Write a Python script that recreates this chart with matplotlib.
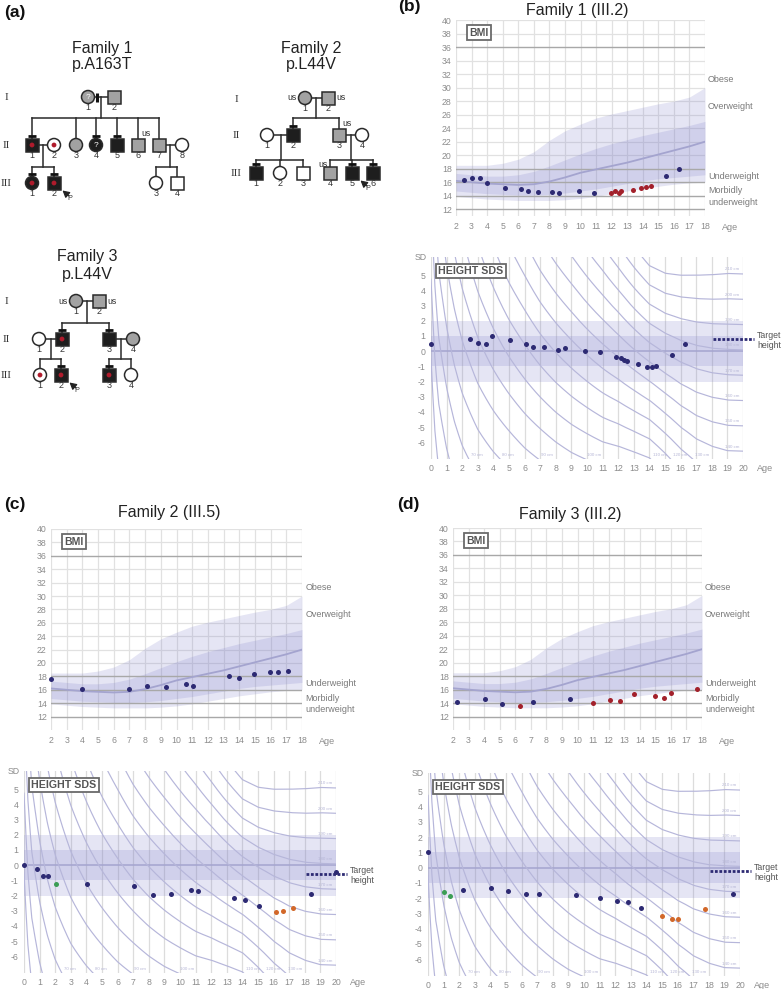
import numpy as np
import matplotlib
matplotlib.use('Agg')
import matplotlib.pyplot as plt
from matplotlib.patches import Rectangle, Circle
import matplotlib.transforms as mtransforms

plt.rcParams['font.family'] = ['Liberation Sans', 'DejaVu Sans']
plt.rcParams['axes.unicode_minus'] = False

W, H = 782, 989
fig = plt.figure(figsize=(W / 100, H / 100), dpi=100)

# ------------------------------------------------------------------ data
# BMI reference bands (boys), ages 2..18
bmi_ref_age = [2, 3, 4, 5, 6, 7, 8, 9, 10, 11, 12, 13, 14, 15, 16, 17, 18]
bmi_outer_hi = [18.5, 18.5, 18.5, 18.8, 19.4, 20.5, 22.2, 23.6, 24.6, 25.5, 26.1, 26.6, 27.1, 27.6, 28.0, 28.6, 30.0]
bmi_outer_lo = [13.9, 13.7, 13.5, 13.4, 13.3, 13.3, 13.3, 13.4, 13.6, 13.9, 14.3, 14.7, 15.1, 15.4, 15.7, 15.9, 16.0]
bmi_inner_hi = [17.3, 17.1, 16.9, 16.9, 17.1, 17.6, 18.4, 19.3, 20.2, 21.0, 21.7, 22.3, 22.9, 23.4, 23.9, 24.4, 25.0]
bmi_inner_lo = [14.7, 14.5, 14.3, 14.2, 14.1, 14.1, 14.2, 14.4, 14.7, 15.0, 15.4, 15.8, 16.2, 16.5, 16.7, 16.9, 17.1]
bmi_median = [16.2, 16.0, 15.8, 15.7, 15.6, 15.7, 16.1, 16.7, 17.4, 17.9, 18.4, 18.9, 19.5, 20.1, 20.7, 21.3, 22.0]
bmi_cutoffs = [36, 18, 16, 14, 12]
bmi_cat_labels = ['Obese', 'Overweight', 'Underweight', 'Morbidly\nunderweight']
bmi_cat_pos = [31.2, 27.2, 16.9, 13.9]

# Height reference (for iso-height lines)
ht_ref_age = [0, 0.25, 0.5, 1, 1.5, 2, 3, 4, 5, 6, 7, 8, 9, 10, 11, 12, 13, 14, 15, 16, 17, 18, 19, 20]
ht_ref_mean = [51.0, 61.0, 68.0, 76.0, 82.5, 88.0, 97.0, 104.5, 111.5, 118.0, 124.5, 130.5, 136.0, 141.5,
               147.0, 152.5, 159.0, 165.5, 171.0, 175.0, 177.5, 178.8, 179.3, 179.5]
ht_ref_sd = [1.9, 2.1, 2.3, 2.5, 2.7, 2.9, 3.3, 3.7, 4.1, 4.4, 4.8, 5.1, 5.4, 5.8, 6.2, 6.8, 7.4, 7.9,
             7.6, 7.0, 6.5, 6.2, 6.0, 6.0]
iso_heights = [50, 60, 70, 80, 90, 100, 110, 120, 130, 140, 150, 160, 170, 180, 190, 200, 210]

# Family 1 (III.2)
f1_bmi_blue_age = [2.51, 3.01, 3.57, 3.97, 5.13, 6.16, 6.6, 7.27, 8.16, 8.64, 9.92, 10.88, 15.5, 16.34]
f1_bmi_blue = [16.38, 16.62, 16.62, 15.95, 15.08, 14.96, 14.65, 14.52, 14.52, 14.38, 14.76, 14.4, 16.98, 17.98]
f1_bmi_red_age = [11.94, 12.23, 12.47, 12.62, 13.35, 13.86, 14.2, 14.5]
f1_bmi_red = [14.42, 14.76, 14.33, 14.66, 14.91, 15.1, 15.26, 15.42]
f1_ht_blue_age = [0.0, 2.48, 2.99, 3.55, 3.91, 5.09, 6.11, 6.54, 7.22, 8.12, 8.59, 9.87, 10.81, 11.88,
                  12.16, 12.39, 12.59, 13.27, 13.82, 14.15, 14.44, 15.47, 16.28]
f1_ht_blue = [0.5, 0.79, 0.57, 0.44, 0.99, 0.72, 0.5, 0.26, 0.26, 0.09, 0.18, 0.02, -0.07, -0.39,
              -0.44, -0.55, -0.66, -0.86, -1.05, -1.01, -0.96, -0.24, 0.5]
f1_target = 0.81

# Family 2 (III.5)
f2_bmi_blue_age = [2.0, 3.99, 7.0, 8.15, 9.31, 10.6, 11.03, 13.34, 13.99, 14.92, 15.99, 16.45, 17.09]
f2_bmi_blue = [17.54, 16.15, 16.15, 16.6, 16.4, 16.84, 16.5, 18.07, 17.73, 18.33, 18.67, 18.62, 18.87]
f2_ht_blue_age = [0.0, 0.85, 1.2, 1.52, 4.06, 7.07, 8.25, 9.4, 10.71, 11.13, 13.48, 14.14, 15.06, 18.4, 20.0]
f2_ht_blue = [0.0, -0.22, -0.72, -0.7, -1.27, -1.4, -1.97, -1.91, -1.62, -1.69, -2.17, -2.32, -2.68, -1.89, -0.44]
f2_ht_green_age = [2.03]
f2_ht_green = [-1.27]
f2_ht_orange_age = [16.13, 16.6, 17.24]
f2_ht_orange = [-3.09, -3.0, -2.81]
f2_target = -0.61

# Family 3 (III.2)
f3_bmi_blue_age = [2.26, 4.05, 5.12, 7.17, 9.52]
f3_bmi_blue = [14.15, 14.6, 13.85, 14.15, 14.6]
f3_bmi_red_age = [6.32, 11.02, 12.09, 12.75, 13.6, 14.99, 15.55, 16.0, 17.68]
f3_bmi_red = [13.6, 14.0, 14.45, 14.25, 15.3, 15.05, 14.8, 15.55, 16.15]
f3_ht_blue_age = [0.0, 2.25, 4.04, 5.11, 6.31, 7.14, 9.5, 11.04, 12.13, 12.79, 13.63, 19.57]
f3_ht_blue = [1.0, -1.48, -1.33, -1.54, -1.7, -1.74, -1.8, -1.98, -2.17, -2.26, -2.65, -1.76]
f3_ht_green_age = [1.0, 1.39]
f3_ht_green = [-1.61, -1.89]
f3_ht_orange_age = [15.02, 15.61, 16.02, 17.73]
f3_ht_orange = [-3.15, -3.35, -3.37, -2.74]
f3_target = -0.24

# Pedigrees: (generation, number, sex, fill, flags)
# flags: d red dot, q question mark, t tested bar, s side bar, p proband,
#        l/r/a/b "us" at left/right/above-right/above-left
fam1_members = [
    ('I', 1, 'f', 'g', 'qs'), ('I', 2, 'm', 'g', ''),
    ('II', 1, 'm', 'k', 'dt'), ('II', 2, 'f', 'w', 'd'), ('II', 3, 'f', 'g', ''), ('II', 4, 'f', 'k', 'qt'),
    ('II', 5, 'm', 'k', 't'), ('II', 6, 'm', 'g', 'a'), ('II', 7, 'm', 'g', ''), ('II', 8, 'f', 'w', ''),
    ('III', 1, 'f', 'k', 'dt'), ('III', 2, 'm', 'k', 'dtp'), ('III', 3, 'f', 'w', ''), ('III', 4, 'm', 'w', ''),
]
fam1_unions = [(('I', 1), ('I', 2), [('II', 1), ('II', 3), ('II', 4), ('II', 5), ('II', 6), ('II', 7)]),
               (('II', 1), ('II', 2), [('III', 1), ('III', 2)]),
               (('II', 7), ('II', 8), [('III', 3), ('III', 4)])]
fam2_members = [
    ('I', 1, 'f', 'g', 'l'), ('I', 2, 'm', 'g', 'r'),
    ('II', 1, 'f', 'w', ''), ('II', 2, 'm', 'k', 't'), ('II', 3, 'm', 'g', 'a'), ('II', 4, 'f', 'w', ''),
    ('III', 1, 'm', 'k', 't'), ('III', 2, 'f', 'w', ''), ('III', 3, 'm', 'w', ''), ('III', 4, 'm', 'g', 'b'),
    ('III', 5, 'm', 'k', 'tp'), ('III', 6, 'm', 'k', 't'),
]
fam2_unions = [(('I', 1), ('I', 2), [('II', 2), ('II', 3)]),
               (('II', 1), ('II', 2), [('III', 1), ('III', 2), ('III', 3)]),
               (('II', 3), ('II', 4), [('III', 4), ('III', 5), ('III', 6)])]
fam3_members = [
    ('I', 1, 'f', 'g', 'l'), ('I', 2, 'm', 'g', 'r'),
    ('II', 1, 'f', 'w', ''), ('II', 2, 'm', 'k', 'dt'), ('II', 3, 'm', 'k', 't'), ('II', 4, 'f', 'g', ''),
    ('III', 1, 'f', 'w', 'd'), ('III', 2, 'm', 'k', 'dtp'), ('III', 3, 'm', 'k', 'dt'), ('III', 4, 'f', 'w', ''),
]
fam3_unions = [(('I', 1), ('I', 2), [('II', 2), ('II', 3)]),
               (('II', 1), ('II', 2), [('III', 1), ('III', 2)]),
               (('II', 3), ('II', 4), [('III', 3), ('III', 4)])]

# ------------------------------------------------------------------ styles
NAVY = '#2d2a73'
RED = '#a3212b'
GREEN = '#3c9e55'
ORANGE = '#d2682a'
TICK_C = '#8c8c8c'
GRID_C = '#e1e1e1'
BAND_C = '#8080c8'
CURVE_C = '#b6b6da'


def px_axes(l, t, r, b):
    return fig.add_axes([l / W, 1 - b / H, (r - l) / W, (b - t) / H])


def offset_text(ax, x, y_ax, dy_px, s, **kw):
    tr = mtransforms.blended_transform_factory(ax.transData, ax.transAxes)
    tr = tr + mtransforms.ScaledTranslation(0, dy_px / 100, fig.dpi_scale_trans)
    ax.text(x, y_ax, s, transform=tr, **kw)


def draw_bmi(ax, ylow, blue_age, blue, red_age=None, red=None):
    ax.set_xlim(2, 18)
    ax.set_ylim(ylow, 40)
    for s in ax.spines.values():
        s.set_visible(False)
    for a in range(2, 19):
        ax.axvline(a, color=GRID_C, lw=0.9, zorder=0)
    for v in range(12, 41, 2):
        if v not in bmi_cutoffs:
            ax.axhline(v, color=GRID_C, lw=0.9, zorder=0)
    ax.fill_between(bmi_ref_age, bmi_outer_lo, bmi_outer_hi, color=BAND_C, alpha=0.2, lw=0, zorder=1)
    ax.fill_between(bmi_ref_age, bmi_inner_lo, bmi_inner_hi, color=BAND_C, alpha=0.2, lw=0, zorder=1)
    for v in bmi_cutoffs:
        ax.axhline(v, color='#a8a8a8', lw=1.0, zorder=1.5)
    ax.plot(bmi_ref_age, bmi_median, color='#a4a4cf', lw=1.3, zorder=2)
    ax.scatter(blue_age, blue, s=13, color=NAVY, zorder=5, clip_on=False, lw=0)
    if red_age is not None:
        ax.scatter(red_age, red, s=13, color=RED, zorder=5, clip_on=False, lw=0)
    ax.set_xticks(range(2, 19))
    ax.set_yticks(range(12, 41, 2))
    ax.tick_params(length=0, labelsize=6.3, labelcolor=TICK_C, pad=3)
    ax.tick_params(axis='x', pad=4.5)
    for lab, yv in zip(bmi_cat_labels, bmi_cat_pos):
        ax.text(18.2, yv, lab, fontsize=6.5, color='#7a7a7a', va='center', ha='left',
                linespacing=1.35, clip_on=False)
    offset_text(ax, 19.1, 0, -12, 'Age', fontsize=6.5, color=TICK_C, va='center', ha='left')
    ax.text(3.48, 38.1, 'BMI', fontsize=7.5, fontweight='bold', color='#555555', ha='center', va='center',
            bbox=dict(boxstyle='square,pad=0.25', fc='white', ec='#6a6a6a', lw=1.3), zorder=6)


def draw_height(ax, blue_age, blue, target, green_age=None, green=None, orange_age=None, orange=None):
    ax.set_xlim(0, 20)
    ax.set_ylim(-7.1, 6.2)
    for s in ax.spines.values():
        s.set_visible(False)
    for a in range(0, 21):
        ax.axvline(a, color='#dcdcdc', lw=0.9, zorder=0)
    ax.axhspan(-2, 2, color=BAND_C, alpha=0.2, lw=0, zorder=1)
    ax.axhspan(-1, 1, color=BAND_C, alpha=0.2, lw=0, zorder=1)
    ax.axhline(0, color='#a4a4cf', lw=1.1, zorder=1.5)
    ages = np.linspace(0, 20, 801)
    mean = np.interp(ages, ht_ref_age, ht_ref_mean)
    sd = np.interp(ages, ht_ref_age, ht_ref_sd)
    for h in iso_heights:
        z = (h - mean) / sd
        ax.plot(ages, z, color=CURVE_C, lw=0.85, zorder=2)
        if h >= 140:
            ax.text(19.3, z[-1] + 0.3, f'{h} cm', fontsize=3.2, color='#b6b6d6', ha='center',
                    va='center', zorder=2)
        elif h >= 70:
            idx = np.argmax(z < -7.1)
            ax.text(ages[idx] + 0.12, -6.85, f'{h} cm', fontsize=3.2, color='#b6b6d6', ha='left',
                    va='center', zorder=2)
    ax.scatter(blue_age, blue, s=13, color=NAVY, zorder=5, clip_on=False, lw=0)
    if green_age is not None:
        ax.scatter(green_age, green, s=13, color=GREEN, zorder=5, clip_on=False, lw=0)
    if orange_age is not None:
        ax.scatter(orange_age, orange, s=13, color=ORANGE, zorder=5, clip_on=False, lw=0)
    ax.plot([18.05, 20.7], [target, target], color=NAVY, lw=2.0, ls=(0, (1, 0.6)), clip_on=False, zorder=5)
    ax.text(20.9, target - 0.1, 'Target\nheight', fontsize=6.3, color='#555555', ha='left', va='center',
            linespacing=1.15, clip_on=False)
    ax.set_xticks(range(0, 21))
    ax.set_yticks(range(-6, 6))
    ax.tick_params(length=0, labelsize=6.3, labelcolor=TICK_C, pad=4)
    ax.tick_params(axis='x', pad=3.5)
    offset_text(ax, 20.9, 0, -9.5, 'Age', fontsize=6.5, color=TICK_C, va='center', ha='left')
    ax.text(-0.25, 6.2, 'SD', fontsize=6.3, color=TICK_C, ha='right', va='center')
    ax.text(2.55, 5.3, 'HEIGHT SDS', fontsize=7.7, fontweight='bold', color='#555555', ha='center',
            va='center', bbox=dict(boxstyle='square,pad=0.2', fc='white', ec='#6a6a6a', lw=1.3), zorder=6)


# ------------------------------------------------------------------ panel (a): pedigrees
axa = px_axes(0, 0, 390, 440)
axa.set_xlim(0, 390)
axa.set_ylim(440, 0)
axa.axis('off')

FILLS = {'g': '#a2a2a2', 'k': '#1e1e1e', 'w': 'white'}
R = 6.5
LC = '#2a2a2a'


def draw_family(members, unions, xpos, gen_y, sib_y, desc_x, gen_label_x):
    pos = {}
    for gen, num, sex, fill, flags in members:
        pos[(gen, num)] = (xpos[(gen, num)], gen_y[gen])
    for (a, b, kids), gy_sib, dx in zip(unions, sib_y, desc_x):
        xa, ya = pos[a]
        xb, yb = pos[b]
        axa.plot([xa + R, xb - R], [ya, ya], color=LC, lw=1.1, zorder=1)
        axa.plot([dx, dx], [ya, gy_sib], color=LC, lw=1.1, zorder=1)
        kx = [pos[k][0] for k in kids]
        axa.plot([min(kx), max(kx)], [gy_sib, gy_sib], color=LC, lw=1.1, zorder=1)
        for k in kids:
            x, y = pos[k]
            axa.plot([x, x], [gy_sib, y - R], color=LC, lw=1.1, zorder=1)
    for gen, num, sex, fill, flags in members:
        x, y = pos[(gen, num)]
        fc = FILLS[fill]
        if sex == 'm':
            axa.add_patch(Rectangle((x - R, y - R), 2 * R, 2 * R, fc=fc, ec=LC, lw=1.1, zorder=3))
        else:
            axa.add_patch(Circle((x, y), R, fc=fc, ec=LC, lw=1.1, zorder=3))
        if 'd' in flags:
            axa.add_patch(Circle((x, y), 2.4, fc='#b01b2c', ec='none', zorder=4))
        if 'q' in flags:
            axa.text(x, y + 0.5, '?', color='white', fontsize=6, ha='center', va='center', zorder=4)
        if 't' in flags:
            axa.plot([x - 4, x + 4], [y - R - 2.5, y - R - 2.5], color='#111111', lw=2.0, zorder=4,
                     solid_capstyle='butt')
        if 's' in flags:
            axa.plot([x + R + 2.5, x + R + 2.5], [y - 4.5, y + 4.5], color='#111111', lw=2.2, zorder=4,
                     solid_capstyle='butt')
        if 'p' in flags:
            axa.annotate('', xy=(x + 8.5, y + 7.5), xytext=(x + 15, y + 13),
                         arrowprops=dict(arrowstyle='-|>,head_length=0.4,head_width=0.22', color='#222222',
                                         lw=0.9, shrinkA=0, shrinkB=0))
            axa.text(x + 15.5, y + 15.5, 'P', fontsize=5.2, color='#333333', ha='center', va='center')
        if 'l' in flags:
            axa.text(x - R - 1.5, y, 'us', fontsize=6.3, color='#333333', ha='right', va='center')
        if 'r' in flags:
            axa.text(x + R + 1.5, y, 'us', fontsize=6.3, color='#333333', ha='left', va='center')
        if 'a' in flags:
            axa.text(x + 3, y - R - 4.5, 'us', fontsize=6.3, color='#333333', ha='left', va='center')
        if 'b' in flags:
            axa.text(x - 2, y - R - 2, 'us', fontsize=6.3, color='#333333', ha='right', va='center')
        axa.text(x, y + 10.5, str(num), fontsize=6.5, color='#333333', ha='center', va='center')
    for g, yv in gen_y.items():
        axa.text(gen_label_x, yv + 1, g, fontsize=8, color='#333333', ha='center', va='center',
                 family=['Liberation Serif', 'DejaVu Serif'])


draw_family(fam1_members, fam1_unions,
            {('I', 1): 88, ('I', 2): 114,
             ('II', 1): 32, ('II', 2): 54, ('II', 3): 76, ('II', 4): 96, ('II', 5): 117, ('II', 6): 138,
             ('II', 7): 159, ('II', 8): 182,
             ('III', 1): 32, ('III', 2): 54, ('III', 3): 156, ('III', 4): 177},
            {'I': 97, 'II': 145, 'III': 183}, [118, 167, 167], [101, 43, 170], 6)
draw_family(fam2_members, fam2_unions,
            {('I', 1): 305, ('I', 2): 328,
             ('II', 1): 267, ('II', 2): 293, ('II', 3): 339, ('II', 4): 362,
             ('III', 1): 256, ('III', 2): 280, ('III', 3): 303, ('III', 4): 330, ('III', 5): 352,
             ('III', 6): 373},
            {'I': 98, 'II': 135, 'III': 173}, [118, 160, 160], [316, 281, 351], 236)
draw_family(fam3_members, fam3_unions,
            {('I', 1): 76, ('I', 2): 99,
             ('II', 1): 39, ('II', 2): 62, ('II', 3): 109, ('II', 4): 133,
             ('III', 1): 40, ('III', 2): 61, ('III', 3): 109, ('III', 4): 131},
            {'I': 301, 'II': 339, 'III': 375}, [323, 359, 359], [87, 51, 121], 6)

axa.text(102, 49, 'Family 1', fontsize=11.5, color='#222222', ha='center', va='center')
axa.text(102, 64, 'p.A163T', fontsize=11.5, color='#222222', ha='center', va='center')
axa.text(311, 49, 'Family 2', fontsize=11.5, color='#222222', ha='center', va='center')
axa.text(311, 64, 'p.L44V', fontsize=11.5, color='#222222', ha='center', va='center')
axa.text(87, 256, 'Family 3', fontsize=11.5, color='#222222', ha='center', va='center')
axa.text(87, 275, 'p.L44V', fontsize=11.5, color='#222222', ha='center', va='center')

# ------------------------------------------------------------------ chart panels
ax_b1 = px_axes(456, 20, 705, 216)
draw_bmi(ax_b1, 11.0, f1_bmi_blue_age, f1_bmi_blue, f1_bmi_red_age, f1_bmi_red)
ax_b2 = px_axes(431, 257, 743, 459)
draw_height(ax_b2, f1_ht_blue_age, f1_ht_blue, f1_target)

ax_c1 = px_axes(51, 529, 302, 730)
draw_bmi(ax_c1, 10.0, f2_bmi_blue_age, f2_bmi_blue)
ax_c2 = px_axes(24, 771, 336, 973)
draw_height(ax_c2, f2_ht_blue_age, f2_ht_blue, f2_target, f2_ht_green_age, f2_ht_green,
            f2_ht_orange_age, f2_ht_orange)

ax_d1 = px_axes(453, 528, 702, 730)
draw_bmi(ax_d1, 10.0, f3_bmi_blue_age, f3_bmi_blue, f3_bmi_red_age, f3_bmi_red)
ax_d2 = px_axes(428, 773, 740, 976)
draw_height(ax_d2, f3_ht_blue_age, f3_ht_blue, f3_target, f3_ht_green_age, f3_ht_green,
            f3_ht_orange_age, f3_ht_orange)


def fig_text(x, y, s, **kw):
    fig.text(x / W, 1 - y / H, s, **kw)


fig_text(577, 10, 'Family 1 (III.2)', fontsize=11.5, color='#222222', ha='center', va='center')
fig_text(169, 513, 'Family 2 (III.5)', fontsize=11.5, color='#222222', ha='center', va='center')
fig_text(570, 514, 'Family 3 (III.2)', fontsize=11.5, color='#222222', ha='center', va='center')
fig_text(4, 12, '(a)', fontsize=12.5, fontweight='bold', color='#111111', ha='left', va='center')
fig_text(398, 7, '(b)', fontsize=12.5, fontweight='bold', color='#111111', ha='left', va='center')
fig_text(4, 504, '(c)', fontsize=12.5, fontweight='bold', color='#111111', ha='left', va='center')
fig_text(397, 504, '(d)', fontsize=12.5, fontweight='bold', color='#111111', ha='left', va='center')

fig.savefig('out.png', dpi=100)
